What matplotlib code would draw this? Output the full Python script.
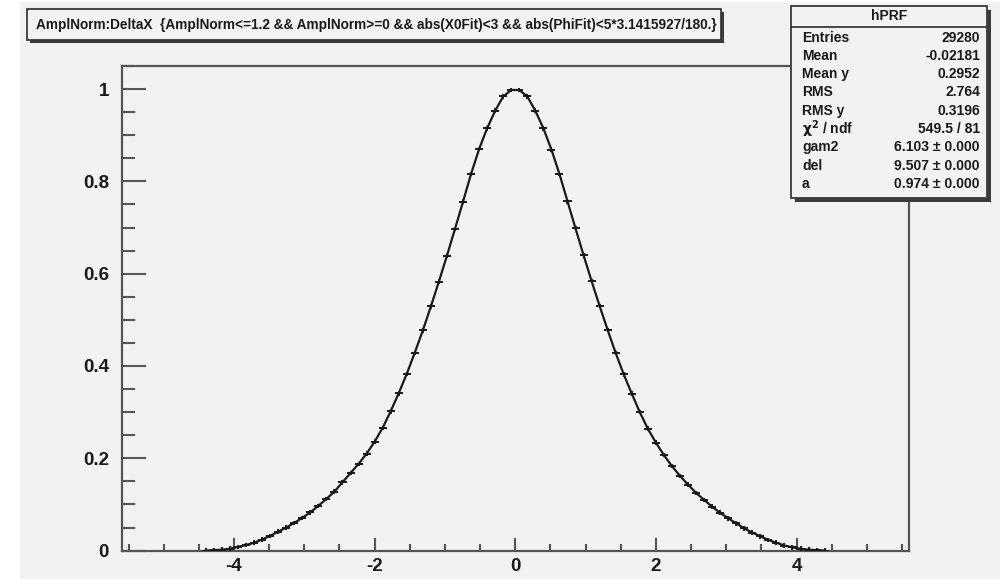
import numpy as np
import matplotlib
matplotlib.use("Agg")
import matplotlib.pyplot as plt
from matplotlib.patches import Rectangle
from matplotlib.ticker import MultipleLocator, FixedLocator, FixedFormatter

plt.rcParams['font.family'] = ['Liberation Sans', 'DejaVu Sans']
plt.rcParams['font.weight'] = 'bold'
plt.rcParams['mathtext.default'] = 'bf'
plt.rcParams['axes.unicode_minus'] = False

# ---- histogram definition (TProfile hPRF) ----
hist_name = "hPRF"
draw_expr = ("AmplNorm:DeltaX  {AmplNorm<=1.2 && AmplNorm>=0 && abs(X0Fit)<3 "
             "&& abs(PhiFit)<5*3.1415927/180.}")
x_low, x_high, n_bins = -5.6, 5.6, 98
first_filled_bin = 10

# mean normalised amplitude per DeltaX bin
prf_mean = [
    0.000, 0.001, 0.002, 0.004, 0.008, 0.012, 0.017, 0.024, 0.032, 0.041,
    0.050, 0.060, 0.071, 0.083, 0.097, 0.112, 0.128, 0.148, 0.168, 0.188,
    0.210, 0.236, 0.266, 0.302, 0.341, 0.383, 0.429, 0.477, 0.529, 0.583,
    0.639, 0.697, 0.756, 0.816, 0.870, 0.915, 0.953, 0.984, 0.998,
    0.998, 0.984, 0.953, 0.915, 0.869, 0.816, 0.757, 0.698, 0.640, 0.584,
    0.530, 0.478, 0.428, 0.382, 0.340, 0.300, 0.264, 0.234, 0.207, 0.183,
    0.162, 0.143, 0.125, 0.110, 0.095, 0.082, 0.070, 0.059, 0.048, 0.039,
    0.031, 0.023, 0.017, 0.011, 0.007, 0.004, 0.002, 0.001, 0.000,
]
bin_error = 0.005

stat_labels = ["Entries", "Mean", "Mean y", "RMS", "RMS y",
               r"$\chi^{2}$ / ndf", "gam2", "del", "a"]
stat_values = ["29280", "-0.02181", "0.2952", "2.764", "0.3196",
               "549.5 / 81", "6.103 \u00b1 0.000", "9.507 \u00b1 0.000",
               "0.974 \u00b1 0.000"]

x_ticks = [-4, -2, 0, 2, 4]
y_ticks = [0, 0.2, 0.4, 0.6, 0.8, 1.0]
y_tick_labels = ["0", "0.2", "0.4", "0.6", "0.8", "1"]

# ---- derived bin centres ----
bin_width = (x_high - x_low) / n_bins
idx = np.arange(first_filled_bin, first_filled_bin + len(prf_mean))
centres = x_low + (idx + 0.5) * bin_width
values = np.array(prf_mean)

W, H = 1005, 582
bg = "#f2f2f2"
frame_col = "#555555"
ink = "#1a1a1a"

fig = plt.figure(figsize=(W / 100, H / 100), dpi=100, facecolor="white")

# canvas background
fig.add_artist(Rectangle((20 / W, 1 - 579 / H), 980 / W, 577 / H,
                         transform=fig.transFigure, facecolor=bg,
                         edgecolor="none", zorder=-10))

ax = fig.add_axes([121.5 / W, 1 - 550.6 / H, (909 - 121.5) / W, (550.6 - 66) / H])
ax.set_facecolor(bg)
ax.set_xlim(x_low, x_high)
ax.set_ylim(0, 1.05)

# profile points with bin-width horizontal bars
ax.errorbar(centres, values, xerr=bin_width / 2, yerr=bin_error, fmt="none",
            ecolor=ink, elinewidth=1.4, capsize=0, zorder=3)
# fitted PRF curve
ax.plot(centres, values, color=ink, lw=1.6, zorder=4)

for s in ax.spines.values():
    s.set_color(frame_col)
    s.set_linewidth(1.6)

ax.xaxis.set_major_locator(FixedLocator(x_ticks))
ax.xaxis.set_minor_locator(MultipleLocator(0.5))
ax.yaxis.set_major_locator(FixedLocator(y_ticks))
ax.yaxis.set_major_formatter(FixedFormatter(y_tick_labels))
ax.yaxis.set_minor_locator(MultipleLocator(0.05))
ax.tick_params(axis="both", which="both", direction="in", colors=frame_col,
               labelcolor=ink, width=1.5)
ax.tick_params(axis="y", which="major", length=17, pad=9, labelsize=13.5)
ax.tick_params(axis="y", which="minor", length=9.5)
ax.tick_params(axis="x", which="major", length=9.5, pad=5, labelsize=13.5)
ax.tick_params(axis="x", which="minor", length=5)
ax.tick_params(top=False, right=False, which="both")

# ---- overlay in pixel coordinates for the panes ----
ov = fig.add_axes([0, 0, 1, 1], zorder=5)
ov.set_xlim(0, W)
ov.set_ylim(H, 0)
ov.axis("off")
ov.patch.set_alpha(0)


def pave(x0, y0, x1, y1, shadow=4):
    ov.add_patch(Rectangle((x0 + shadow, y0 + shadow), x1 - x0, y1 - y0,
                           facecolor="#3a3a3a", edgecolor="none", zorder=1))
    ov.add_patch(Rectangle((x0, y0), x1 - x0, y1 - y0, facecolor=bg,
                           edgecolor="#3a3a3a", lw=1.3, zorder=2))


# title pave
pave(27, 9, 721, 40, shadow=3)
ov.text(376, 25, draw_expr, ha="center", va="center", fontsize=9.8,
        color=ink, zorder=3)

# statistics pave
sx0, sy0, sx1, sy1 = 791, 6, 987, 198
pave(sx0, sy0, sx1, sy1, shadow=4)
ov.plot([sx0, sx1], [26.5, 26.5], color="#3a3a3a", lw=1.3, zorder=3)
ov.text((sx0 + sx1) / 2, 16.5, hist_name, ha="center", va="center",
        fontsize=10, color=ink, zorder=3)
row0, row_step = 37.5, 18.3
for i, (lab, val) in enumerate(zip(stat_labels, stat_values)):
    y = row0 + i * row_step
    ov.text(sx0 + 11, y, lab, ha="left", va="center", fontsize=10,
            color=ink, zorder=3)
    ov.text(sx1 - 7, y, val, ha="right", va="center", fontsize=10,
            color=ink, zorder=3)

fig.savefig("out.png", dpi=100, facecolor=fig.get_facecolor())
